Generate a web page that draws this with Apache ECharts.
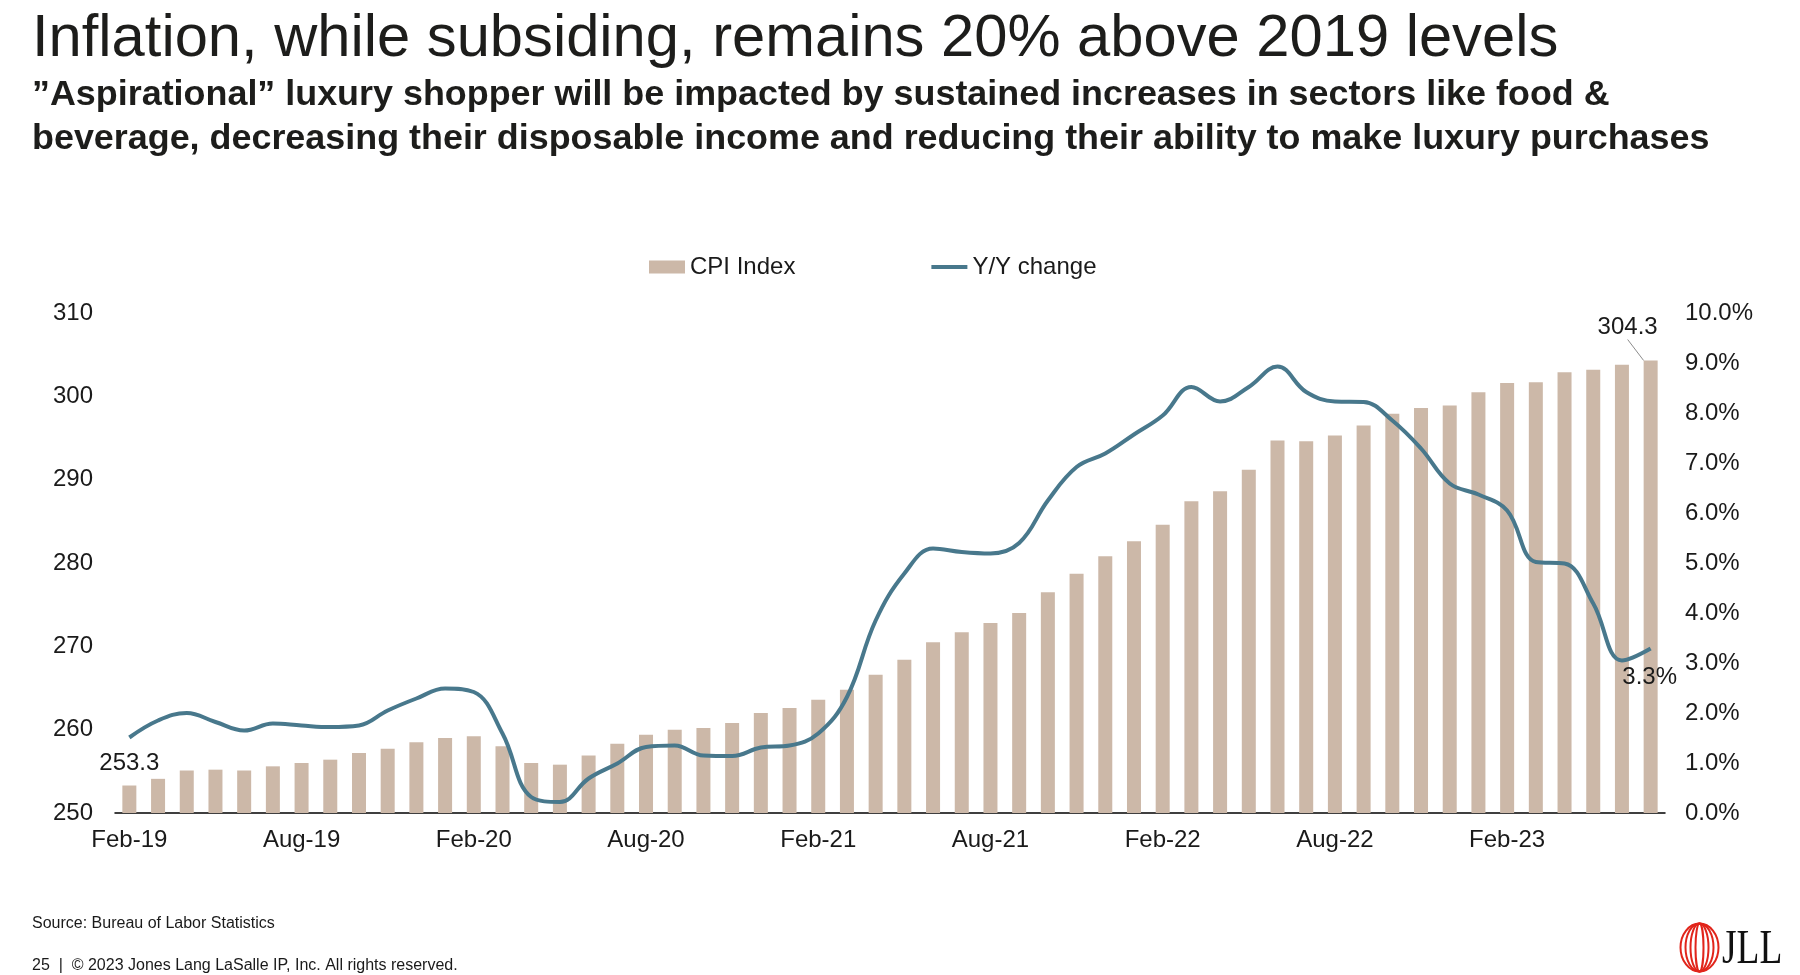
<!DOCTYPE html>
<html>
<head>
<meta charset="utf-8">
<script src="https://cdn.jsdelivr.net/npm/echarts@6/dist/echarts.min.js"></script>
<style>
html,body{margin:0;padding:0;background:#ffffff;}
#chart{width:1800px;height:975px;}
</style>
</head>
<body>
<div id="chart"></div>
<script>
// ---- data ----
const months = [
  'Feb-19','Mar-19','Apr-19','May-19','Jun-19','Jul-19','Aug-19','Sep-19','Oct-19','Nov-19','Dec-19',
  'Jan-20','Feb-20','Mar-20','Apr-20','May-20','Jun-20','Jul-20','Aug-20','Sep-20','Oct-20','Nov-20','Dec-20',
  'Jan-21','Feb-21','Mar-21','Apr-21','May-21','Jun-21','Jul-21','Aug-21','Sep-21','Oct-21','Nov-21','Dec-21',
  'Jan-22','Feb-22','Mar-22','Apr-22','May-22','Jun-22','Jul-22','Aug-22','Sep-22','Oct-22','Nov-22','Dec-22',
  'Jan-23','Feb-23','Mar-23','Apr-23','May-23','Jun-23','Jul-23'
];
const cpiIndex = [
  253.3, 254.1, 255.1, 255.2, 255.1, 255.6, 256.0, 256.4, 257.2, 257.7,
  258.5, 259.0, 259.2, 258.0, 256.0, 255.8, 256.9, 258.3, 259.4, 260.0,
  260.2, 260.8, 262.0, 262.6, 263.6, 264.8, 266.6, 268.4, 270.5, 271.7,
  272.8, 274.0, 276.5, 278.7, 280.8, 282.6, 284.6, 287.4, 288.6, 291.2,
  294.7, 294.6, 295.3, 296.5, 297.9, 298.6, 298.9, 300.5, 301.6, 301.7,
  302.9, 303.2, 303.8, 304.3
];
const yoyChange = [
  1.51, 1.85, 2.00, 1.82, 1.65, 1.79, 1.75, 1.72, 1.75, 2.05,
  2.29, 2.49, 2.42, 1.59, 0.32, 0.22, 0.69, 0.99, 1.32, 1.35,
  1.15, 1.14, 1.31, 1.35, 1.59, 2.32, 3.85, 4.79, 5.29, 5.22,
  5.19, 5.40, 6.25, 6.92, 7.19, 7.57, 7.95, 8.52, 8.23, 8.52,
  8.93, 8.42, 8.23, 8.22, 7.85, 7.29, 6.59, 6.37, 6.05, 5.02,
  4.99, 4.19, 3.05, 3.29
];
const seriesNames = ['CPI Index', 'Y/Y change'];
const leftAxisRange = [250, 310, 10];
const rightAxisRange = [0, 10, 1];

// ---- chart ----
const FONT = '"Liberation Sans", Arial, Helvetica, sans-serif';
const TXT = '#1a1a1a';
const BAR = '#CCB8A8';
const LINE = '#48788C';
const last = cpiIndex.length - 1;

const barData = cpiIndex.map((v, i) => {
  if (i === 0) return { value: v, label: { show: true, position: 'top', distance: 10 } };
  if (i === last) return { value: v, label: { show: true, position: 'top', distance: 5 },
                          labelLine: { show: true, lineStyle: { color: '#8c8c8c', width: 1 } } };
  return v;
});

const chart = echarts.init(document.getElementById('chart'), null, { renderer: 'canvas' });
chart.setOption({
  backgroundColor: '#ffffff',
  animation: false,
  textStyle: { fontFamily: FONT },
  legend: {
    left: 644, top: 250,
    itemWidth: 36, itemHeight: 13, itemGap: 136,
    symbolKeepAspect: true,
    textStyle: { fontFamily: FONT, fontSize: 24, color: TXT },
    data: [
      { name: seriesNames[0], icon: 'rect' },
      { name: seriesNames[1], icon: 'path://M0,0 L36,0 L36,4 L0,4 Z', itemStyle: { color: LINE } }
    ]
  },
  grid: { left: 115, right: 135, top: 313, bottom: 162, containLabel: false },
  xAxis: {
    type: 'category',
    data: months,
    boundaryGap: true,
    axisLine: { show: true, lineStyle: { color: '#000000', width: 1.5 } },
    axisTick: { show: false },
    axisLabel: { interval: 5, margin: 15, fontFamily: FONT, fontSize: 24, color: TXT }
  },
  yAxis: [
    {
      type: 'value', min: leftAxisRange[0], max: leftAxisRange[1], interval: leftAxisRange[2],
      axisLine: { show: false }, axisTick: { show: false }, splitLine: { show: false },
      axisLabel: { margin: 22, fontFamily: FONT, fontSize: 24, color: TXT }
    },
    {
      type: 'value', min: rightAxisRange[0], max: rightAxisRange[1], interval: rightAxisRange[2],
      position: 'right',
      axisLine: { show: false }, axisTick: { show: false }, splitLine: { show: false },
      axisLabel: { margin: 20, fontFamily: FONT, fontSize: 24, color: TXT,
                   formatter: v => v.toFixed(1) + '%' }
    }
  ],
  series: [
    {
      name: seriesNames[0], type: 'bar', data: barData, barWidth: 14,
      itemStyle: { color: BAR },
      label: { fontFamily: FONT, fontSize: 24, color: TXT, formatter: p => p.value.toFixed(1) },
      labelLayout: p => (p.dataIndex === last ? { dx: -23, dy: -16 } : {}),
      z: 1
    },
    {
      name: seriesNames[1], type: 'line', yAxisIndex: 1, data: yoyChange,
      smooth: 0.4, symbol: 'none', showSymbol: false,
      lineStyle: { color: LINE, width: 4 },
      itemStyle: { color: LINE },
      endLabel: {
        show: true, distance: 0, offset: [-1, 29], align: 'center', verticalAlign: 'middle',
        fontFamily: FONT, fontSize: 24, color: TXT,
        formatter: p => Number(p.value).toFixed(1) + '%'
      },
      z: 3
    }
  ],
  graphic: [
    { type: 'text', left: 32, top: 10, style: {
        text: 'Inflation, while subsiding, remains 20% above 2019 levels',
        font: '59.7px ' + FONT, fill: '#1d1d1b' } },
    { type: 'text', left: 32, top: 77, style: {
        text: '\u201DAspirational\u201D luxury shopper will be impacted by sustained increases in sectors like food &',
        font: 'bold 35.9px ' + FONT, fill: '#1d1d1b' } },
    { type: 'text', left: 32, top: 121, style: {
        text: 'beverage, decreasing their disposable income and reducing their ability to make luxury purchases',
        font: 'bold 35.9px ' + FONT, fill: '#1d1d1b' } },
    { type: 'text', left: 32, top: 916, style: {
        text: 'Source: Bureau of Labor Statistics', font: '16px ' + FONT, fill: '#1a1a1a' } },
    { type: 'text', left: 32, top: 958, style: {
        text: '25  |  \u00A9 2023 Jones Lang LaSalle IP, Inc. All rights reserved.', font: '16px ' + FONT, fill: '#1a1a1a' } },
    { type: 'group', left: 1678, top: 921, children: [
        { type: 'ellipse', shape: { cx: 20, cy: 25, rx: 19, ry: 24 }, style: { fill: 'none', stroke: '#E1251B', lineWidth: 2 } },
        { type: 'ellipse', shape: { cx: 20, cy: 25, rx: 14, ry: 24 }, style: { fill: 'none', stroke: '#E1251B', lineWidth: 2 } },
        { type: 'ellipse', shape: { cx: 20, cy: 25, rx: 9, ry: 24 }, style: { fill: 'none', stroke: '#E1251B', lineWidth: 2 } },
        { type: 'ellipse', shape: { cx: 20, cy: 25, rx: 4, ry: 24 }, style: { fill: 'none', stroke: '#E1251B', lineWidth: 2 } }
    ] },
    { type: 'text', left: 1722, top: 926, scaleX: 0.78, style: {
        text: 'JLL', font: '48px "Liberation Serif", "DejaVu Serif", serif', fill: '#111111' } }
  ]
});
</script>
</body>
</html>
